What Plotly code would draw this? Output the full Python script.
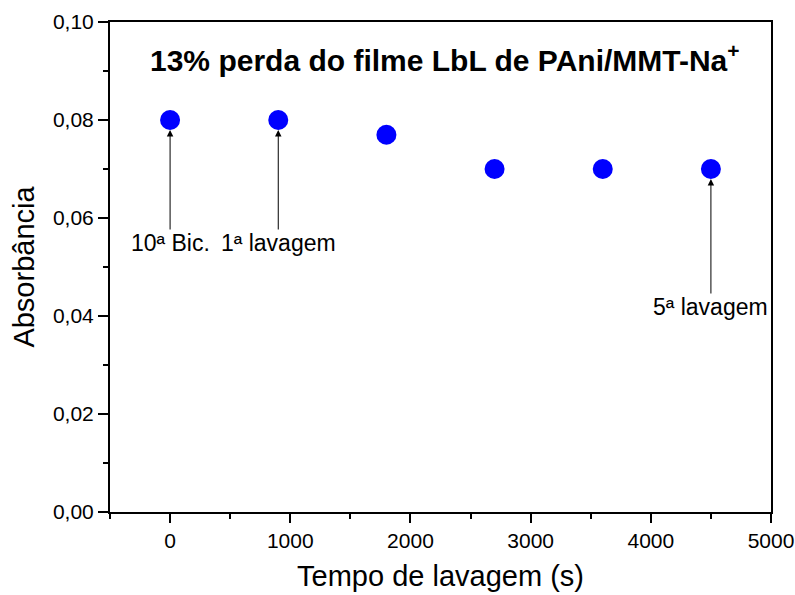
import plotly.graph_objects as go

# Data
tempo = [0, 900, 1800, 2700, 3600, 4500]
absorbancia = [0.080, 0.080, 0.077, 0.070, 0.070, 0.070]

title_text = "<b>13% perda do filme LbL de PAni/MMT-Na<sup>+</sup></b>"
x_title = "Tempo de lavagem (s)"
y_title = "Absorbância"

# annotation labels: (text, index of pointed sample)
arrow_labels = ["10ª Bic.", "1ª lavagem", "5ª lavagem"]
arrow_idx = [0, 1, 5]

FONT = "Liberation Sans, Arial, sans-serif"

fig = go.Figure()
fig.add_trace(go.Scatter(
    x=tempo, y=absorbancia, mode="markers",
    marker=dict(size=20, color="#0000FF", line=dict(width=0)),
    showlegend=False,
))

# labels with arrows: head at the point, label below
label_offset_px = [(0, 123), (0, 123), (0, 138)]
for lab, i, (ox, oy) in zip(arrow_labels, arrow_idx, label_offset_px):
    fig.add_annotation(
        x=tempo[i], y=absorbancia[i], xref="x", yref="y",
        ax=ox, ay=oy, axref="pixel", ayref="pixel",
        text=lab, showarrow=True, arrowhead=2, arrowsize=1.3,
        arrowwidth=1, arrowcolor="black", standoff=10,
        font=dict(family=FONT, size=23, color="black"),
        borderpad=0,
    )

fig.add_annotation(
    x=0.507, y=0.926, xref="paper", yref="paper", text=title_text,
    showarrow=False, font=dict(family=FONT, size=30, color="black"),
    xanchor="center", yanchor="middle",
)

fig.update_layout(
    width=795, height=595,
    margin=dict(l=110, r=24, t=22, b=83),
    paper_bgcolor="white", plot_bgcolor="white",
    separators=",.",
    font=dict(family=FONT, color="black"),
)
fig.update_xaxes(
    range=[-500, 5000], tick0=0, dtick=1000, tickformat="d",
    showgrid=False, zeroline=False, automargin=False,
    showline=True, linewidth=2, linecolor="black", mirror=True,
    ticks="outside", ticklen=9, tickwidth=2, tickcolor="black",
    tickfont=dict(size=21, family=FONT),
    minor=dict(dtick=500, tick0=0, ticks="outside", ticklen=5, tickwidth=2, tickcolor="black"),
    title=dict(text=x_title, font=dict(size=29, family=FONT), standoff=14),
)
fig.update_yaxes(
    range=[0, 0.1], tick0=0, dtick=0.02, tickformat=".2f",
    showgrid=False, zeroline=False, automargin=False,
    showline=True, linewidth=2, linecolor="black", mirror=True,
    ticks="outside", ticklen=10, tickwidth=2, tickcolor="black",
    tickfont=dict(size=21, family=FONT),
    minor=dict(dtick=0.01, tick0=0, ticks="outside", ticklen=5, tickwidth=2, tickcolor="black"),
    title=dict(text=y_title, font=dict(size=29, family=FONT), standoff=10),
)

fig.write_html("out.html")
